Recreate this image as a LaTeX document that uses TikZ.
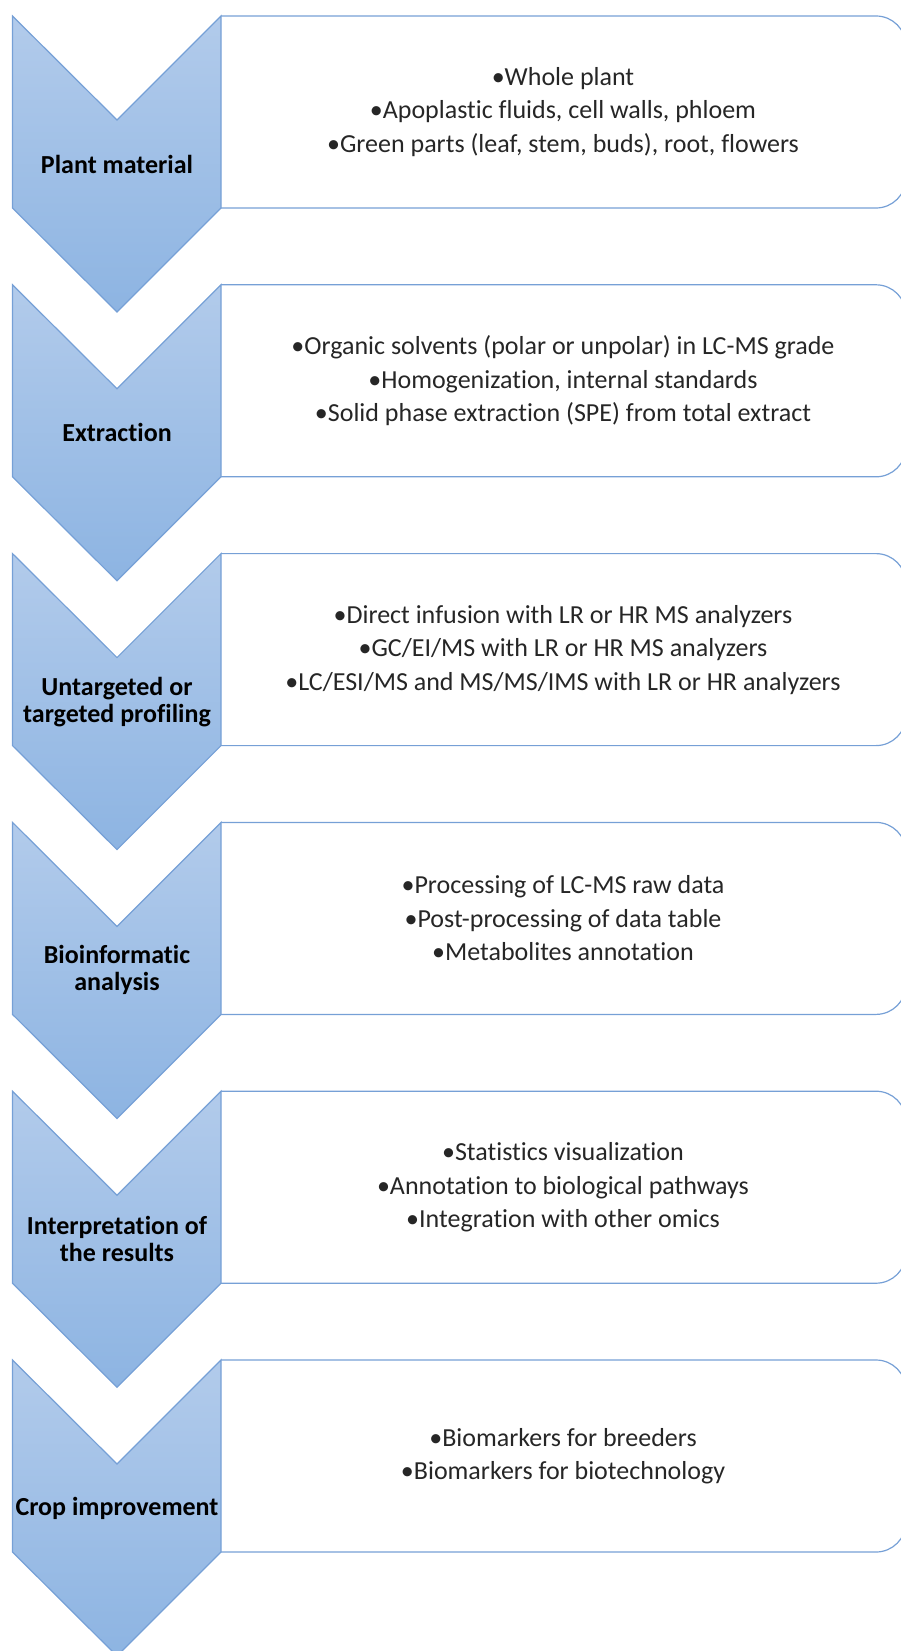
\documentclass[tikz,border=0pt]{standalone}
\usepackage{fontspec}
\setmainfont{Carlito}[Ligatures=NoCommon]
\definecolor{edgeblue}{RGB}{118,160,214}
\definecolor{chevtop}{RGB}{178,203,235}
\definecolor{chevbot}{RGB}{141,180,226}

\begin{document}
\begin{tikzpicture}[x=1pt, y=-1pt, line width=1.2pt,
    chev/.style = {draw=edgeblue, line join=miter, top color=chevtop, bottom color=chevbot},
    stagebox/.style = {draw=edgeblue, rounded corners=30},
    stagename/.style = {font=\bfseries\fontsize{26}{27}\selectfont, align=center, text=black},
    stageitems/.style = {font=\fontsize{26}{33.5}\selectfont, align=center, text=black!85}]
    \useasboundingbox (0,0) rectangle (901,1651);
    \clip (0,0) rectangle (901,1651);

    % boxes on the right
    \draw[stagebox] (221,16) -- (906,16) -- (906,208) -- (221,208);
    \draw[stagebox] (221,284.8) -- (906,284.8) -- (906,476.8) -- (221,476.8);
    \draw[stagebox] (221,553.6) -- (906,553.6) -- (906,745.6) -- (221,745.6);
    \draw[stagebox] (221,822.4) -- (906,822.4) -- (906,1014.4) -- (221,1014.4);
    \draw[stagebox] (221,1091.2) -- (906,1091.2) -- (906,1283.2) -- (221,1283.2);
    \draw[stagebox] (221,1360) -- (906,1360) -- (906,1552) -- (221,1552);

    % chevrons
    \draw[chev] (12.5,16) -- (117,120) -- (221,16) -- (221,208) -- (117,312) -- (12.5,208) -- cycle;
    \draw[chev] (12.5,284.8) -- (117,388.8) -- (221,284.8) -- (221,476.8) -- (117,580.8) -- (12.5,476.8) -- cycle;
    \draw[chev] (12.5,553.6) -- (117,657.6) -- (221,553.6) -- (221,745.6) -- (117,849.6) -- (12.5,745.6) -- cycle;
    \draw[chev] (12.5,822.4) -- (117,926.4) -- (221,822.4) -- (221,1014.4) -- (117,1118.4) -- (12.5,1014.4) -- cycle;
    \draw[chev] (12.5,1091.2) -- (117,1195.2) -- (221,1091.2) -- (221,1283.2) -- (117,1387.2) -- (12.5,1283.2) -- cycle;
    \draw[chev] (12.5,1360) -- (117,1464) -- (221,1360) -- (221,1552) -- (117,1656) -- (12.5,1552) -- cycle;

    \node[stagename] (s1) at (117,164) {Plant material};
    \node[stagename] (s2) at (117,432.8) {Extraction};
    \node[stagename] (s3) at (117,701.6) {Untargeted or\\targeted profiling};
    \node[stagename] (s4) at (117,970.4) {Bioinformatic\\analysis};
    \node[stagename] (s5) at (117,1239.2) {Interpretation of\\the results};
    \node[stagename] (s6) at (117,1508) {Crop improvement};

    \node[stageitems] (i1) at (563,112) {•Whole plant\\•Apoplastic fluids, cell walls, phloem\\•Green parts (leaf, stem, buds), root, flowers};
    \node[stageitems] (i2) at (563,380.8) {•Organic solvents (polar or unpolar) in LC-MS grade\\•Homogenization, internal standards\\•Solid phase extraction (SPE) from total extract};
    \node[stageitems] (i3) at (563,649.6) {•Direct infusion with LR or HR MS analyzers\\•GC/EI/MS with LR or HR MS analyzers\\•LC/ESI/MS and MS/MS/IMS with LR or HR analyzers};
    \node[stageitems] (i4) at (563,918.4) {•Processing of LC-MS raw data\\•Post-processing of data table\\•Metabolites annotation};
    \node[stageitems] (i5) at (563,1187.2) {•Statistics visualization\\•Annotation to biological pathways\\•Integration with other omics};
    \node[stageitems] (i6) at (563,1456) {•Biomarkers for breeders\\•Biomarkers for biotechnology};

\end{tikzpicture}
\end{document}
